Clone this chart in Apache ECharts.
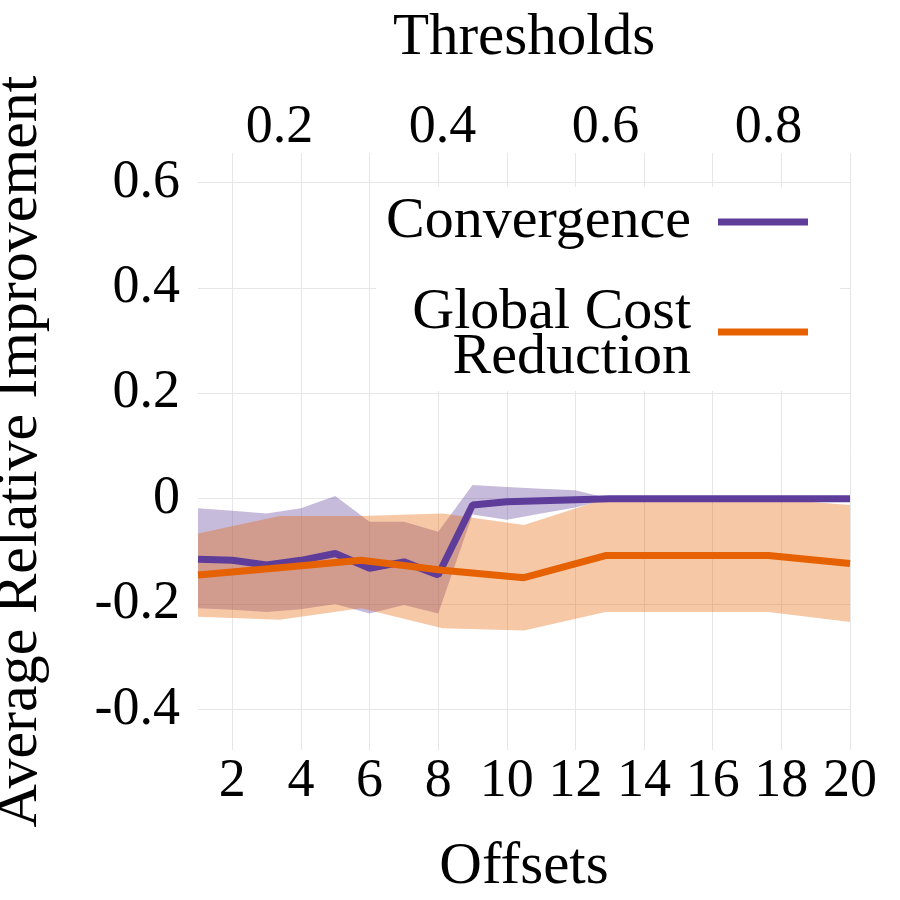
<!DOCTYPE html>
<html>
<head>
<meta charset="utf-8">
<script src="https://cdn.jsdelivr.net/npm/echarts@6/dist/echarts.min.js"></script>
<style>
  html, body { margin: 0; padding: 0; background: #fff; }
  #chart { width: 900px; height: 900px; }
</style>
</head>
<body>
<div id="chart"></div>
<script>
// bottom axis: offsets, convergence series
const offsets = [1, 2, 3, 4, 5, 6, 7, 8, 9, 10, 11, 12, 13, 14, 15, 16, 17, 18, 19, 20];
const convMean  = [-0.115, -0.117, -0.126, -0.117, -0.104, -0.132, -0.120, -0.145, -0.012, -0.006, -0.004, -0.002, 0, 0, 0, 0, 0, 0, 0, 0];
const convUpper = [-0.018, -0.023, -0.028, -0.018, 0.005, -0.044, -0.044, -0.063, 0.026, 0.022, 0.019, 0.016, 0, 0, 0, 0, 0, 0, 0, 0];
const convLower = [-0.208, -0.211, -0.215, -0.210, -0.200, -0.218, -0.202, -0.218, -0.030, -0.040, -0.028, -0.017, 0, 0, 0, 0, 0, 0, 0, 0];

// top axis: thresholds, global cost reduction series
const thresholds = [0.1, 0.2, 0.3, 0.4, 0.5, 0.6, 0.7, 0.8, 0.9];
const costMean  = [-0.145, -0.131, -0.117, -0.136, -0.150, -0.108, -0.108, -0.108, -0.123];
const costUpper = [-0.066, -0.033, -0.033, -0.028, -0.050, 0, 0, 0, -0.012];
const costLower = [-0.224, -0.230, -0.208, -0.246, -0.250, -0.215, -0.215, -0.215, -0.234];

const offsetTicks = [2, 4, 6, 8, 10, 12, 14, 16, 18, 20];
const thresholdTicks = [0.2, 0.4, 0.6, 0.8];
const yTicks = [-0.4, -0.2, 0, 0.2, 0.4, 0.6];

const PURPLE = '#5e3c99';
const ORANGE = '#e66101';
const FONT = '"Liberation Serif", "DejaVu Serif", serif';

const pairs = (xs, ys) => xs.map((x, i) => [x, ys[i]]);

// shaded band between lower and upper, drawn as one polygon through api.coord
const band = (id, xs, lo, hi, xIdx, color) => ({
    type: 'custom', name: id, xAxisIndex: xIdx, silent: true, z: 1,
    data: xs.map((x, i) => [x, lo[i], hi[i]]),
    encode: { x: 0, y: [1, 2] },
    renderItem: (params, api) => {
        if (params.dataIndex !== 0) return;
        const n = params.dataInsideLength;
        const top = [], bottom = [];
        for (let j = 0; j < n; j++) {
            top.push(api.coord([api.value(0, j), api.value(2, j)]));
            bottom.push(api.coord([api.value(0, j), api.value(1, j)]));
        }
        return {
            type: 'polygon',
            shape: { points: top.concat(bottom.reverse()) },
            style: { fill: color }
        };
    }
});

const gridLine = { show: true, lineStyle: { color: '#e6e6e6', width: 1 } };

const chart = echarts.init(document.getElementById('chart'));
chart.setOption({
    animation: false,
    grid: { left: 198, right: 50, top: 153, bottom: 150, outerBoundsMode: 'none', containLabel: false },
    xAxis: [
        {
            type: 'value', position: 'bottom', min: 1, max: 20,
            name: 'Offsets', nameLocation: 'middle', nameGap: 88,
            nameTextStyle: { fontFamily: FONT, fontSize: 59, color: '#000' },
            axisLine: { show: false },
            axisTick: { show: false, customValues: offsetTicks },
            axisLabel: { customValues: offsetTicks, fontFamily: FONT, fontSize: 54, color: '#000', margin: 5 },
            splitLine: gridLine
        },
        {
            type: 'value', position: 'top', min: 0.1, max: 0.9,
            name: 'Thresholds', nameLocation: 'middle', nameGap: 85,
            nameTextStyle: { fontFamily: FONT, fontSize: 59, color: '#000' },
            axisLine: { show: false },
            axisTick: { show: false, customValues: thresholdTicks },
            axisLabel: { customValues: thresholdTicks, fontFamily: FONT, fontSize: 54, color: '#000', margin: -2,
                formatter: v => v.toFixed(1) },
            splitLine: { show: false }
        }
    ],
    yAxis: {
        type: 'value', min: -0.477, max: 0.656,
        name: 'Average Relative Improvement', nameLocation: 'middle', nameGap: 148, nameRotate: 90,
        nameTextStyle: { fontFamily: FONT, fontSize: 60, color: '#000' },
        axisLine: { show: false },
        axisTick: { show: false, customValues: yTicks },
        axisLabel: { customValues: yTicks, fontFamily: FONT, fontSize: 54, color: '#000', margin: 18,
            formatter: v => (Math.abs(v) < 1e-9 ? '0' : v.toFixed(1)) },
        splitLine: gridLine
    },
    legend: {
        data: [
            { name: 'Convergence', icon: 'rect' },
            { name: 'Global Cost Reduction', icon: 'rect' }
        ],
        formatter: n => (n === 'Global Cost Reduction' ? '{g|Global Cost}\n{t|Reduction}' : n),
        orient: 'vertical', align: 'right', right: 60, top: 187,
        itemWidth: 90, itemHeight: 7, itemGap: 19,
        padding: [6, 32, 4, 10],
        backgroundColor: '#fff',
        textStyle: {
            fontFamily: FONT, fontSize: 58, lineHeight: 52, color: '#000', padding: [0, 22, 0, 0],
            rich: {
                g: { fontFamily: FONT, fontSize: 58, lineHeight: 52, padding: [14, 0, 0, 0] },
                t: { fontFamily: FONT, fontSize: 58, lineHeight: 52 }
            }
        }
    },
    series: [
        band('conv-band', offsets, convLower, convUpper, 0, 'rgba(94,60,153,0.35)'),
        band('cost-band', thresholds, costLower, costUpper, 1, 'rgba(230,97,1,0.35)'),
        {
            type: 'line', name: 'Convergence', xAxisIndex: 0, color: PURPLE,
            data: pairs(offsets, convMean), symbol: 'none', z: 3,
            lineStyle: { color: PURPLE, width: 7 }
        },
        {
            type: 'line', name: 'Global Cost Reduction', xAxisIndex: 1, color: ORANGE,
            data: pairs(thresholds, costMean), symbol: 'none', z: 4,
            lineStyle: { color: ORANGE, width: 7 }
        }
    ]
});
</script>
</body>
</html>
